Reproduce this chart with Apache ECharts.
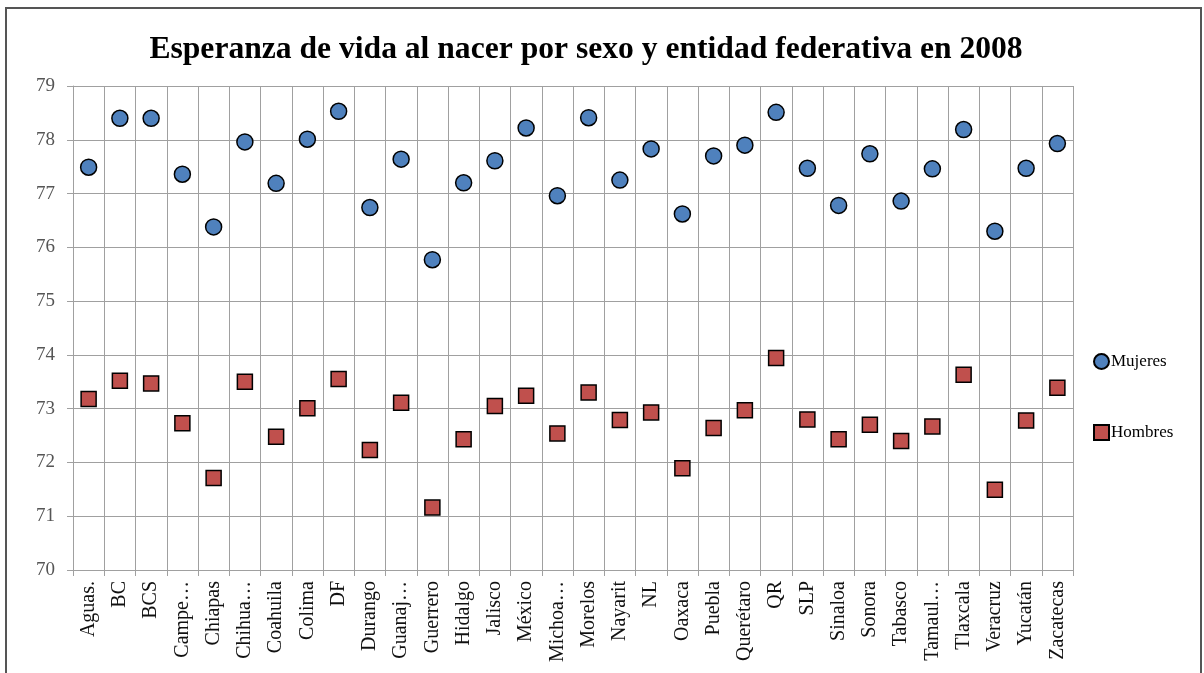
<!DOCTYPE html>
<html lang="es">
<head>
    <meta charset="UTF-8">
    <title>Esperanza de vida</title>
    <script src="https://cdn.jsdelivr.net/npm/echarts@6/dist/echarts.min.js"></script>
    <style>
        body { margin: 0; background: #fff; }
        #main { width: 1204px; height: 673px; }
        #marco { position: absolute; left: 5px; top: 7px; width: 1193px; height: 700px;
                 border: 2px solid #555; pointer-events: none; }
    </style>
</head>
<body>
<div id="main"></div>
<div id="marco"></div>
<script>
    // entidades federativas (etiquetas del eje x)
    var entidades = ["Aguas.", "BC", "BCS", "Campe…", "Chiapas", "Chihua…", "Coahuila", "Colima", "DF",
        "Durango", "Guanaj…", "Guerrero", "Hidalgo", "Jalisco", "México", "Michoa…", "Morelos",
        "Nayarit", "NL", "Oaxaca", "Puebla", "Querétaro", "QR", "SLP", "Sinaloa", "Sonora",
        "Tabasco", "Tamaul…", "Tlaxcala", "Veracruz", "Yucatán", "Zacatecas"];

    var mujeres = [77.49, 78.40, 78.40, 77.36, 76.38, 77.96, 77.19, 78.01, 78.53,
        76.74, 77.64, 75.77, 77.20, 77.61, 78.22, 76.96, 78.41,
        77.25, 77.83, 76.62, 77.70, 77.90, 78.51, 77.47, 76.78, 77.74,
        76.86, 77.46, 78.19, 76.30, 77.47, 77.93];

    var hombres = [73.18, 73.52, 73.47, 72.73, 71.71, 73.50, 72.48, 73.01, 73.55,
        72.23, 73.11, 71.16, 72.43, 73.05, 73.24, 72.54, 73.30,
        72.79, 72.93, 71.89, 72.64, 72.97, 73.94, 72.80, 72.43, 72.70,
        72.40, 72.67, 73.63, 71.49, 72.78, 73.39];

    var yMin = 70, yMax = 79;

    var fuente = '"Liberation Serif", "Times New Roman", serif';
    var myChart = echarts.init(document.getElementById('main'));

    var option = {
        backgroundColor: '#fff',
        animation: false,
        title: {
            text: 'Esperanza de vida al nacer por sexo y entidad federativa en 2008',
            left: 581,
            top: 29,
            textAlign: 'center',
            textStyle: { fontFamily: fuente, fontWeight: 'bold', fontSize: 31.6, color: '#000' }
        },
        legend: {
            orient: 'vertical',
            left: 1088,
            top: 348,
            itemGap: 54,
            itemWidth: 15,
            itemHeight: 15,
            textStyle: { fontFamily: fuente, fontSize: 17, color: '#000', padding: [0, 0, 0, -3] },
            data: [{ name: 'Mujeres', icon: 'circle' }, { name: 'Hombres', icon: 'rect' }]
        },
        grid: { left: 73, right: 131, top: 86, bottom: 103 },
        xAxis: {
            type: 'category',
            data: entidades,
            boundaryGap: true,
            axisLine: { lineStyle: { color: '#a0a0a0', width: 1 } },
            axisTick: { show: true, length: 6, lineStyle: { color: '#a0a0a0' } },
            splitLine: { show: true, lineStyle: { color: '#a0a0a0', width: 1 } },
            axisLabel: { rotate: 90, interval: 0, margin: 11, fontFamily: fuente, fontSize: 20, color: '#111' }
        },
        yAxis: {
            type: 'value',
            min: yMin,
            max: yMax,
            interval: 1,
            axisLine: { show: true, lineStyle: { color: '#a0a0a0' } },
            axisTick: { show: true, length: 6, lineStyle: { color: '#a0a0a0' } },
            splitLine: { show: true, lineStyle: { color: '#a0a0a0', width: 1 } },
            axisLabel: { margin: 18, fontFamily: fuente, fontSize: 19, color: '#555' }
        },
        series: [
            {
                name: 'Mujeres',
                type: 'scatter',
                symbol: 'circle',
                symbolSize: 16,
                itemStyle: { color: '#4f81bd', borderColor: '#000', borderWidth: 1.5, opacity: 1 },
                data: mujeres
            },
            {
                name: 'Hombres',
                type: 'scatter',
                symbol: 'rect',
                symbolSize: 15,
                itemStyle: { color: '#c0504d', borderColor: '#000', borderWidth: 1.5, opacity: 1 },
                data: hombres
            }
        ]
    };

    myChart.setOption(option);
</script>
</body>
</html>
